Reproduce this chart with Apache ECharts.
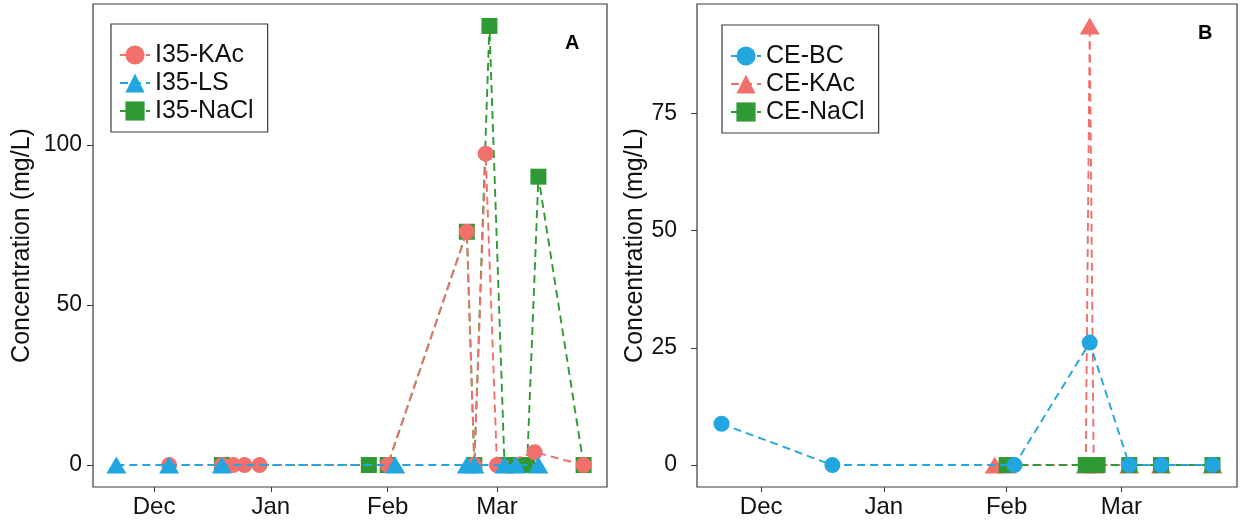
<!DOCTYPE html>
<html>
<head>
<meta charset="utf-8">
<script src="https://cdn.jsdelivr.net/npm/echarts@6/dist/echarts.min.js"></script>
<style>
  html, body { margin: 0; padding: 0; background: #ffffff; }
  #chart { width: 1241px; height: 523px; }
</style>
</head>
<body>
<div id="chart"></div>
<script>
// ---- axis ticks ----
const monthTickDates = ['2019-12-01', '2020-01-01', '2020-02-01', '2020-03-01'];
const monthTickLabels = ['Dec', 'Jan', 'Feb', 'Mar'];
const ticksA = [0, 50, 100];
const ticksB = [0, 25, 50, 75];

// ---- panel A: I35 site ----
const i35KAcDates  = ['2019-12-05', '2019-12-19', '2019-12-22', '2019-12-25', '2019-12-29', '2020-02-01',
                      '2020-02-22', '2020-02-24', '2020-02-27', '2020-03-01', '2020-03-11', '2020-03-24'];
const i35KAcValues = [0, 0, 0, 0, 0, 0, 72.9, 0, 97.3, 0, 4, 0];

const i35LSDates   = ['2019-11-21', '2019-12-05', '2019-12-19', '2020-02-03', '2020-02-22', '2020-02-24',
                      '2020-03-03', '2020-03-06', '2020-03-12'];
const i35LSValues  = [0, 0, 0, 0, 0, 0, 0, 0, 0];

const i35NaClDates  = ['2019-12-19', '2020-01-27', '2020-02-01', '2020-02-22', '2020-02-24', '2020-02-28',
                       '2020-03-03', '2020-03-06', '2020-03-09', '2020-03-12', '2020-03-24'];
const i35NaClValues = [0, 0, 0, 72.9, 0, 137.2, 0, 0, 0, 90.1, 0];

// ---- panel B: CE site ----
const ceBCDates   = ['2019-11-21', '2019-12-19', '2020-02-03', '2020-02-22', '2020-03-03', '2020-03-11', '2020-03-24'];
const ceBCValues  = [8.8, 0, 0, 26.1, 0, 0, 0];

const ceKAcDates  = ['2020-01-29', '2020-02-01', '2020-02-21', '2020-02-22', '2020-02-23', '2020-03-03',
                     '2020-03-11', '2020-03-24'];
const ceKAcValues = [0, 0, 0, 93.6, 0, 0, 0, 0];

const ceNaClDates  = ['2020-02-01', '2020-02-21', '2020-02-24', '2020-03-03', '2020-03-11', '2020-03-24'];
const ceNaClValues = [0, 0, 0, 0, 0, 0];

// ---- helpers ----
const DAY = 86400000;
const toTime = s => { const p = s.split('-').map(Number); return Date.UTC(p[0], p[1] - 1, p[2]); };
const pairs = (dates, vals) => dates.map((d, i) => [toTime(d), vals[i]]);
const tickTimes = monthTickDates.map(toTime);
const xMin = tickTimes[0] - 16.2 * DAY;
const xMax = tickTimes[0] + 120.2 * DAY;

const FONT = '"Liberation Sans", Arial, sans-serif';
const RED = '#F2706B', BLUE = '#22A6DF', GREEN = '#2F9A33';
const BORDER = '#3a3a3a';

function monthLabel(v) {
  let best = 0, bd = Infinity;
  tickTimes.forEach((t, i) => { const d = Math.abs(t - v); if (d < bd) { bd = d; best = i; } });
  return bd < DAY ? monthTickLabels[best] : '';
}

function xAxis(gridIndex) {
  return {
    type: 'value', gridIndex, min: xMin, max: xMax, scale: true,
    axisLine: { show: false, onZero: false },
    splitLine: { show: false },
    axisTick: { show: true, customValues: tickTimes, length: 5, lineStyle: { color: BORDER, width: 1 } },
    axisLabel: { customValues: tickTimes, formatter: monthLabel, fontSize: 24, color: '#111',
                 fontFamily: FONT, margin: 8, hideOverlap: false, showMinLabel: true, showMaxLabel: true }
  };
}

function yAxis(gridIndex, min, max, ticks, nameGap, labelMargin) {
  return {
    type: 'value', gridIndex, min, max,
    name: 'Concentration (mg/L)', nameLocation: 'middle', nameGap,
    nameTextStyle: { fontSize: 25, color: '#111', fontFamily: FONT },
    axisLine: { show: false, onZero: false },
    splitLine: { show: false },
    axisTick: { show: true, customValues: ticks, length: 6, lineStyle: { color: BORDER, width: 1 } },
    axisLabel: { customValues: ticks, fontSize: 23, color: '#111', fontFamily: FONT, margin: labelMargin }
  };
}

function lineSeries(name, data, color, symbol, size, axisIdx, z) {
  return {
    name, type: 'line', data, xAxisIndex: axisIdx, yAxisIndex: axisIdx, z,
    symbol, symbolSize: size, showAllSymbol: true,
    itemStyle: { color, opacity: 1 },
    lineStyle: { color, width: 1.9, type: [8, 5] },
    emphasis: { disabled: true },
    animation: false
  };
}

const legendText = { fontSize: 25, color: '#111', fontFamily: FONT, lineHeight: 26 };

function legend(names, left, top) {
  return {
    data: names, left, top, orient: 'vertical',
    borderColor: BORDER, borderWidth: 1.2, padding: [18, 14, 8, 8],
    itemGap: 2, itemWidth: 30, itemHeight: 24,
    textStyle: legendText, selectedMode: false
  };
}

const option = {
  backgroundColor: '#ffffff',
  animation: false,
  grid: [
    { left: 93, top: 4, width: 514, height: 483, show: true, borderColor: BORDER, borderWidth: 1.2, backgroundColor: 'transparent' },
    { left: 697, top: 4, width: 540, height: 483, show: true, borderColor: BORDER, borderWidth: 1.2, backgroundColor: 'transparent' }
  ],
  xAxis: [xAxis(0), xAxis(1)],
  yAxis: [
    yAxis(0, -6.86, 144.06, ticksA, 58, 11),
    yAxis(1, -4.68, 98.28, ticksB, 48, 20)
  ],
  legend: [
    legend(['I35-KAc', 'I35-LS', 'I35-NaCl'], 111, 24),
    legend(['CE-BC', 'CE-KAc', 'CE-NaCl'], 722, 25)
  ],
  graphic: [
    { type: 'text', left: 565, top: 33, style: { text: 'A', font: 'bold 20px ' + FONT, fill: '#000' } },
    { type: 'text', left: 1198, top: 23, style: { text: 'B', font: 'bold 20px ' + FONT, fill: '#000' } }
  ],
  series: [
    lineSeries('I35-NaCl', pairs(i35NaClDates, i35NaClValues), GREEN, 'rect', 16, 0, 2),
    lineSeries('I35-KAc', pairs(i35KAcDates, i35KAcValues), RED, 'circle', 16, 0, 3),
    lineSeries('I35-LS', pairs(i35LSDates, i35LSValues), BLUE, 'triangle', [20, 17], 0, 4),
    lineSeries('CE-KAc', pairs(ceKAcDates, ceKAcValues), RED, 'triangle', [20, 17], 1, 2),
    lineSeries('CE-NaCl', pairs(ceNaClDates, ceNaClValues), GREEN, 'rect', 16, 1, 3),
    lineSeries('CE-BC', pairs(ceBCDates, ceBCValues), BLUE, 'circle', 16, 1, 4)
  ]
};

const chart = echarts.init(document.getElementById('chart'), null, { renderer: 'canvas' });
chart.setOption(option);
</script>
</body>
</html>
